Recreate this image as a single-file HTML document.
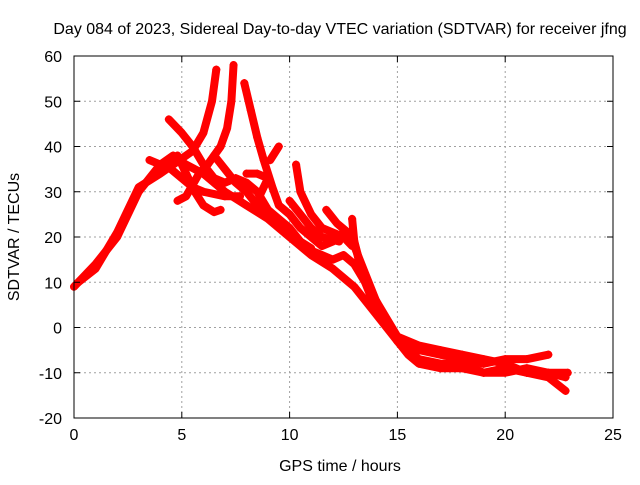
<!DOCTYPE html>
<html><head><meta charset="utf-8"><style>
body{margin:0;background:#fff;}
svg text{font-family:"Liberation Sans",sans-serif;font-size:16px;fill:#000;}
</style></head><body>
<svg id="chart" width="640" height="480" xmlns="http://www.w3.org/2000/svg">
<rect width="640" height="480" fill="#fff"/>
<g id="grid"></g>
<g id="series"></g>
<rect x="74" y="56" width="539" height="362" fill="none" stroke="#000" stroke-width="1"/>
<g id="ticks"></g>
<text x="340" y="34" text-anchor="middle">Day 084 of 2023, Sidereal Day-to-day VTEC variation (SDTVAR) for receiver jfng</text>
<text x="340" y="471" text-anchor="middle">GPS time / hours</text>
<text transform="translate(19,237) rotate(-90)" text-anchor="middle">SDTVAR / TECUs</text>
</svg>
<script>
const xTicks=[0,5,10,15,20,25];
const yTicks=[-20,-10,0,10,20,30,40,50,60];
const trackT1=[[0,9],[1,14],[2,20],[3,30],[4,36],[4.6,38],[5.2,36],[6,34],[7,30],[8,27],[9,24],[10,20],[11,16],[12,13],[13,9],[14,3],[15,-3],[16,-7],[17,-8],[18,-8],[19,-10],[20,-10],[21,-9],[22,-10],[22.8,-11]];
const trackT2=[[0.2,10],[1,13],[2,21],[3,31],[4,34],[4.9,37],[5.5,39],[6,43],[6.4,50],[6.6,57]];
const trackT3=[[4.4,46],[5,43],[5.5,40],[6,36],[6.5,33],[7,32],[7.5,33],[8,32],[8.5,30],[9,26],[9.5,24],[10,22],[10.5,19],[11,17],[11.5,16],[12,15],[12.5,16],[13,14],[13.5,10],[14,4],[15,-3],[16,-5],[17,-6],[18,-7],[19,-8],[20,-7],[21,-7],[22,-6]];
const trackT4=[[7.4,58],[7.3,50],[7.1,44],[6.8,40],[6.2,36],[5.8,34],[5.2,29],[4.8,28]];
const trackT5=[[7.9,54],[8.2,48],[8.5,42],[8.8,37],[9.2,31],[9.5,27],[10,25],[10.5,22],[11,20],[11.5,18],[12,19],[12.5,21],[13,18],[13.5,12],[14,6],[15,-2],[16,-4],[17,-5],[18,-6],[19,-7],[20,-8],[21,-10],[22,-11],[22.8,-14]];
const trackT6=[[3.5,37],[4,36],[4.5,35],[5,33],[5.5,31],[6,30],[7,29],[7.7,29]];
const trackT7=[[4.8,38],[5.2,34],[5.6,30],[6,27],[6.5,25.5],[6.8,26]];
const trackT8=[[6.5,38],[7,35],[7.5,32],[8,30],[8.5,27],[9,25],[9.5,23],[10,21],[10.5,19],[11,17.5]];
const trackT9=[[9.5,40],[9.1,37]];
const trackT10=[[10.3,36],[10.5,30],[11,25],[11.5,22],[12,21],[12.5,20],[12.9,18]];
const trackT11=[[10,28],[10.5,25],[11,22],[11.5,20],[12.3,19]];
const trackT12=[[11.7,26],[12.2,23],[12.7,21],[13,19],[13.5,10]];
const trackT13=[[12.9,24],[13,19],[13.3,13],[14,6],[14.5,1],[15,-3],[15.5,-6],[16,-8],[17,-9],[18,-9],[19,-10],[20,-9],[21,-10],[22,-10],[22.9,-10]];
const trackT14=[[8,34],[8.5,34],[9,33],[8.6,29]];
const tracks=[trackT1,trackT2,trackT3,trackT4,trackT5,trackT6,trackT7,trackT8,trackT9,trackT10,trackT11,trackT12,trackT13,trackT14];

const X0=74,X1=613,Y0=418,Y1=56;
function xs(t){return X0+(t-0)/(25-0)*(X1-X0);}
function ys(v){return Y0-(v+20)/(60+20)*(Y0-Y1);}
const NS="http://www.w3.org/2000/svg";
function mk(tag,attrs,parent){const e=document.createElementNS(NS,tag);for(const k in attrs)e.setAttribute(k,attrs[k]);parent.appendChild(e);return e;}
const grid=document.getElementById('grid'),ticks=document.getElementById('ticks'),ser=document.getElementById('series');
xTicks.forEach(t=>{const x=xs(t);
 if(t>0&&t<25){const l=mk('line',{x1:x,y1:Y0,x2:x,y2:Y1,stroke:'#a0a0a0','stroke-dasharray':'2,3'},grid);
 
 }
 mk('line',{x1:x,y1:Y0,x2:x,y2:Y0-6,stroke:'#000'},ticks);
 mk('line',{x1:x,y1:Y1,x2:x,y2:Y1+6,stroke:'#000'},ticks);
 const tx=mk('text',{x:x,y:Y0+22,'text-anchor':'middle'},ticks);tx.textContent=t;
 
 
});
yTicks.forEach(v=>{const y=ys(v);
 if(v>-20&&v<60){const l=mk('line',{x1:X0,y1:y,x2:X1,y2:y,stroke:'#a0a0a0','stroke-dasharray':'2,3'},grid);
 
 }
 mk('line',{x1:X0,y1:y,x2:X0+6,y2:y,stroke:'#000'},ticks);
 mk('line',{x1:X1,y1:y,x2:X1-6,y2:y,stroke:'#000'},ticks);
 const tx=mk('text',{x:X0-12,y:y+6,'text-anchor':'end'},ticks);tx.textContent=v;
 
 
});
tracks.forEach((tr,i)=>{
 const pl=mk('polyline',{points:tr.map(p=>xs(p[0])+','+ys(p[1])).join(' '),fill:'none',stroke:'#ff0000','stroke-width':8,'stroke-linejoin':'round','stroke-linecap':'round'},ser);
 
 
 tr.forEach(p=>{const x=xs(p[0]),y=ys(p[1]);
  const m=mk('path',{d:`M${x-4},${y}H${x+4}M${x},${y-4}V${y+4}`,stroke:'#ff0000','stroke-width':1.5},ser);
  
  
 });
});
</script>
</body></html>
